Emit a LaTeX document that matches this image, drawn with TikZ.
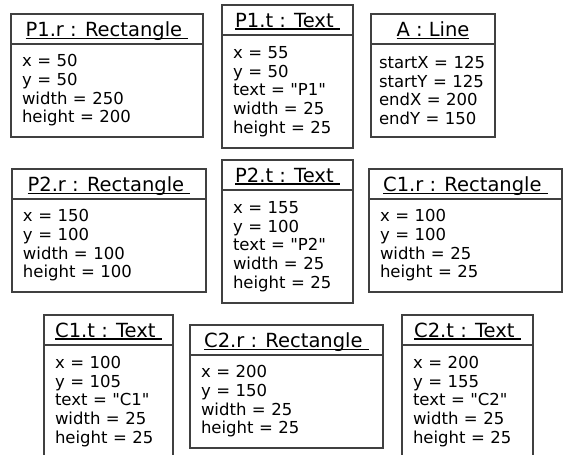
\documentclass[tikz,border=0pt]{standalone}
\usepackage{fontspec}
\setmainfont{DejaVu Sans}
\usepackage{xcolor}
\usepackage{tikz}
\usetikzlibrary{positioning}
\definecolor{boxline}{HTML}{404040}
% underlined object title (rule reaches over a trailing space)
\newsavebox{\titlebox}
\newcommand{\objtitle}[1]{\sbox{\titlebox}{#1}%
  \raisebox{0pt}[\ht\titlebox][0pt]{\rlap{\rule[-3pt]{\wd\titlebox}{1.8pt}}\usebox{\titlebox}}}
\newcommand{\qt}{\textquotedbl}

\begin{document}
\begin{tikzpicture}[x=1pt,y=-1pt,
  objhead/.style={draw=boxline,line width=2.5pt,outer sep=0pt,anchor=north west,inner sep=0pt,
    minimum width=#1,minimum height=30pt,font=\fontsize{19.5}{23}\selectfont},
  objbody/.style 2 args={draw=boxline,line width=2.5pt,outer sep=0pt,inner xsep=11pt,inner ysep=0pt,
    /utils/exec={\pgfmathsetlengthmacro\bodywd{#1-22pt}},text width=\bodywd,
    minimum height=#2,align=left,font=\fontsize{16.5}{18.7}\selectfont}]
\useasboundingbox (0,0) rectangle (563,455);
\clip (0,0) rectangle (563,455);

% first row
\node[objhead=192pt] (p1r) at (11,14) {\objtitle{P1.r : Rectangle\ }};
\node[objbody={192pt}{93pt},below=0pt of p1r] (p1r-attr)
  {x = 50\\y = 50\\width = 250\\height = 200};
\node[objhead=131pt] (p1t) at (222,5) {\objtitle{P1.t : Text\ }};
\node[objbody={131pt}{113pt},below=0pt of p1t] (p1t-attr)
  {x = 55\\y = 50\\text = \qt P1\qt\\width = 25\\height = 25};
\node[objhead=124pt] (a) at (371,14) {\objtitle{A : Line}};
\node[objbody={124pt}{93pt},inner xsep=8pt,text width=108pt,below=0pt of a] (a-attr)
  {startX = 125\\startY = 125\\endX = 200\\endY = 150};

% second row
\node[objhead=194pt] (p2r) at (12,169) {\objtitle{P2.r : Rectangle\ }};
\node[objbody={194pt}{93pt},below=0pt of p2r] (p2r-attr)
  {x = 150\\y = 100\\width = 100\\height = 100};
\node[objhead=131pt] (p2t) at (222,160) {\objtitle{P2.t : Text\ }};
\node[objbody={131pt}{113pt},below=0pt of p2t] (p2t-attr)
  {x = 155\\y = 100\\text = \qt P2\qt\\width = 25\\height = 25};
\node[objhead=193pt] (c1r) at (369,169) {\objtitle{C1.r : Rectangle\ }};
\node[objbody={193pt}{93pt},below=0pt of c1r] (c1r-attr)
  {x = 100\\y = 100\\width = 25\\height = 25};

% third row
\node[objhead=129pt] (c1t) at (44,315) {\objtitle{C1.t : Text\ }};
\node[objbody={129pt}{113pt},below=0pt of c1t] (c1t-attr)
  {x = 100\\y = 105\\text = \qt C1\qt\\width = 25\\height = 25};
\node[objhead=193pt] (c2r) at (190,325) {\objtitle{C2.r : Rectangle\ }};
\node[objbody={193pt}{93pt},below=0pt of c2r] (c2r-attr)
  {x = 200\\y = 150\\width = 25\\height = 25};
\node[objhead=131pt] (c2t) at (402,315) {\objtitle{C2.t : Text\ }};
\node[objbody={131pt}{113pt},below=0pt of c2t] (c2t-attr)
  {x = 200\\y = 155\\text = \qt C2\qt\\width = 25\\height = 25};
\end{tikzpicture}
\end{document}
